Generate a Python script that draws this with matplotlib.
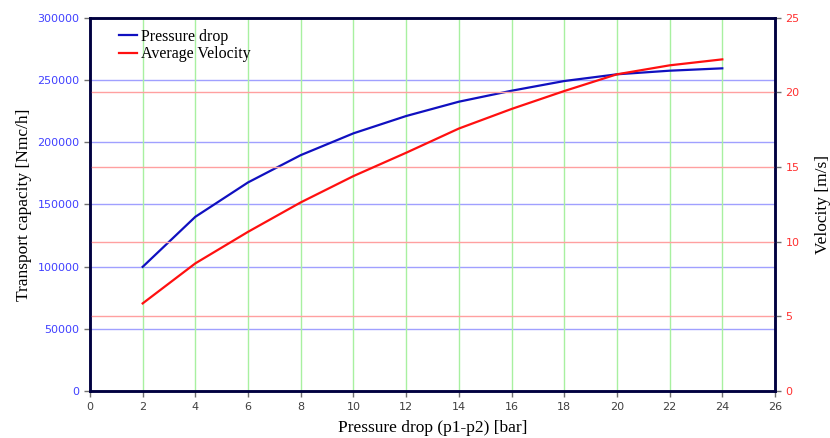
import matplotlib
matplotlib.use("Agg")
import matplotlib.pyplot as plt

# pressure drop values [bar]
pressure = [2, 4, 6, 8, 10, 12, 14, 16, 18, 20, 22, 24]
# transport capacity [Nmc/h]
capacity = [99800, 140000, 167600, 189500, 207000, 220900, 232400,
            241200, 249000, 254400, 257300, 259200]
# average velocity [m/s]
velocity = [5.87, 8.55, 10.66, 12.63, 14.39, 15.95, 17.57,
            18.88, 20.08, 21.2, 21.8, 22.2]

x_ticks = list(range(0, 27, 2))
cap_ticks = list(range(0, 300001, 50000))
vel_ticks = list(range(0, 26, 5))

serif = "Liberation Serif"
tick_font = "DejaVu Sans"


def main():
    fig = plt.figure(figsize=(8.3, 4.38), dpi=100)
    ax = fig.add_axes([0.1084, 0.107, 0.8253, 0.853])
    ax2 = ax.twinx()

    ax.set_xlim(0, 26)
    ax.set_ylim(0, 300000)
    ax2.set_ylim(0, 25)

    # grids drawn by hand as lines on each axis scale
    for v in cap_ticks[1:-1]:
        ax.axhline(v, color="#a0a0ff", lw=1.0, zorder=1)
    for v in vel_ticks[1:-1]:
        ax2.axhline(v, color="#ffa0a0", lw=1.0, zorder=1)
    for v in x_ticks[1:-1]:
        ax.axvline(v, color="#a8f0a0", lw=1.0, zorder=1)

    line_p, = ax.plot(pressure, capacity, color="#1010c0", lw=1.6, zorder=3,
                      label="Pressure drop")
    line_v, = ax2.plot(pressure, velocity, color="#ff1010", lw=1.6, zorder=3,
                       label="Average Velocity")

    ax.set_xticks(x_ticks)
    ax.set_yticks(cap_ticks)
    ax2.set_yticks(vel_ticks)

    for a in (ax, ax2):
        for s in a.spines.values():
            s.set_color("#000040")
            s.set_linewidth(1.8)
        a.tick_params(direction="out", length=4, width=1, color="#707070",
                      labelsize=8)

    for t in ax.get_xticklabels():
        t.set_fontfamily(tick_font)
        t.set_color("#404040")
    for t in ax.get_yticklabels():
        t.set_fontfamily(tick_font)
        t.set_color("#4040ff")
    for t in ax2.get_yticklabels():
        t.set_fontfamily(tick_font)
        t.set_color("#ff3030")

    ax.set_xlabel("Pressure drop (p1-p2) [bar]", fontfamily=serif, fontsize=12.5,
                  labelpad=6)
    ax.set_ylabel("Transport capacity [Nmc/h]", fontfamily=serif, fontsize=12.5)
    ax2.set_ylabel("Velocity [m/s]", fontfamily=serif, fontsize=12.5, labelpad=11)

    leg = ax.legend(handles=[line_p, line_v], loc="upper left",
                    bbox_to_anchor=(0.026, 1.0), frameon=False,
                    prop={"family": serif, "size": 11.5},
                    handlelength=1.1, handletextpad=0.3, labelspacing=0.1,
                    borderaxespad=0.3)
    leg.set_zorder(5)

    fig.savefig("out.png", dpi=100)


if __name__ == "__main__":
    main()
